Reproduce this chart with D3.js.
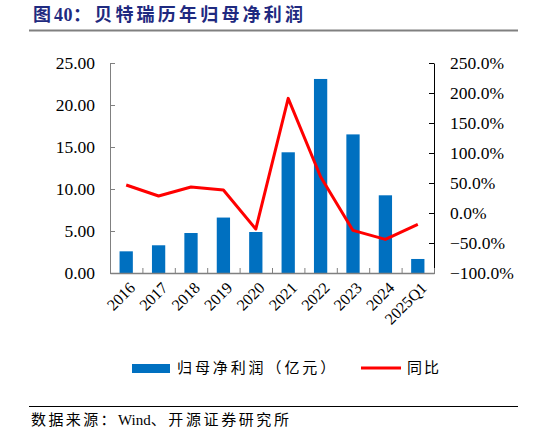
<!DOCTYPE html>
<html>
<head>
<meta charset="utf-8">
<script src="https://cdn.jsdelivr.net/npm/d3@7"></script>
<style>
  body { margin: 0; background: #fff; }
  svg { display: block; }
</style>
</head>
<body>
<div id="chart"></div>
<script>
// datos
const categories = ["2016", "2017", "2018", "2019", "2020", "2021", "2022", "2023", "2024", "2025Q1"];
const profit = [2.58, 3.30, 4.76, 6.60, 4.88, 14.37, 23.10, 16.50, 9.25, 1.67];
const yoy = [46.7, 28.3, 43.3, 38.3, -26.7, 191.0, 60.5, -29.0, -44.0, -19.0];
const leftTicks = [0, 5, 10, 15, 20, 25];
const rightTicks = [-100, -50, 0, 50, 100, 150, 200, 250];

const W = 546, H = 436;
const margin = { top: 63, left: 110, right: 112, bottom: 163 };
const width = W - margin.left - margin.right;
const height = H - margin.top - margin.bottom;

const serif = "'Liberation Serif', 'Times New Roman', serif";
const cjk = "'Liberation Serif', 'Noto Sans CJK SC', sans-serif";

const svg = d3.select("#chart").append("svg")
  .attr("width", W)
  .attr("height", H);

// titulo
const title = svg.append("text")
  .attr("x", 33)
  .attr("y", 21)
  .attr("fill", "#1f2a80")
  .style("font-family", cjk)
  .style("font-weight", "bold")
  .style("font-size", "18px");
title.append("tspan").style("letter-spacing", "3px").text("图");
title.append("tspan").style("letter-spacing", "0.5px").text("40");
title.append("tspan").style("letter-spacing", "3.2px").text("：贝特瑞历年归母净利润");

svg.append("line")
  .attr("x1", 29).attr("x2", 518)
  .attr("y1", 30.5).attr("y2", 30.5)
  .attr("stroke", "#808080")
  .attr("stroke-width", 2);

const g = svg.append("g")
  .attr("transform", `translate(${margin.left},${margin.top})`);

// escalas
const x = d3.scaleBand().domain(categories).range([0, width]).paddingInner(0.59).paddingOuter(0.295);
const xc = d3.scaleBand().domain(categories).range([0, width]);
const yL = d3.scaleLinear().domain([0, 25]).range([height, 0]);
const yR = d3.scaleLinear().domain([-100, 250]).range([height, 0]);
const xEdge = d3.scaleLinear().domain([0, categories.length]).range([0, width]);

// barras
g.selectAll(".bar")
  .data(profit)
  .enter().append("rect")
  .attr("class", "bar")
  .attr("x", (d, i) => x(categories[i]))
  .attr("width", x.bandwidth())
  .attr("y", d => yL(d))
  .attr("height", d => height - yL(d))
  .attr("fill", "#0070c0");

// eje izquierdo
const leftAxis = g.append("g")
  .call(d3.axisLeft(yL).tickValues(leftTicks).tickSizeInner(-5).tickSizeOuter(0).tickPadding(15)
    .tickFormat(d3.format(".2f")));
leftAxis.select(".domain").attr("stroke", "#808080");
leftAxis.selectAll(".tick line").attr("stroke", "#808080");
leftAxis.selectAll(".tick text")
  .attr("fill", "#000")
  .style("font-family", serif)
  .style("font-size", "17.5px");

// eje derecho
const rightAxis = g.append("g")
  .attr("transform", `translate(${width},0)`)
  .call(d3.axisRight(yR).tickValues(rightTicks).tickSizeInner(-5).tickSizeOuter(0).tickPadding(16)
    .tickFormat(d => d3.format(".1f")(d) + "%"));
rightAxis.select(".domain").attr("stroke", "#000");
rightAxis.selectAll(".tick line").attr("stroke", "#000");
rightAxis.selectAll(".tick text")
  .attr("fill", "#000")
  .style("font-family", serif)
  .style("font-size", "17.5px");

// eje inferior (marcas entre categorias)
const bottomAxis = g.append("g")
  .attr("transform", `translate(0,${height})`)
  .call(d3.axisBottom(xEdge).tickValues(d3.range(0, categories.length + 1)).tickSizeInner(-5).tickSizeOuter(0).tickFormat(""));
bottomAxis.select(".domain").attr("stroke", "#808080").attr("stroke-width", 1.5);
bottomAxis.selectAll(".tick line").attr("stroke", "#808080");

// etiquetas rotadas
g.selectAll(".xlab")
  .data(categories)
  .enter().append("text")
  .attr("class", "xlab")
  .attr("transform", d => `translate(${xc(d) + xc.bandwidth() / 2 + 6},${height + 12}) rotate(-45)`)
  .attr("text-anchor", "end")
  .attr("dy", "0.35em")
  .style("font-family", serif)
  .style("font-size", "16px")
  .text(d => d);

// linea de crecimiento
const line = d3.line()
  .x((d, i) => xc(categories[i]) + xc.bandwidth() / 2)
  .y(d => yR(d));

g.append("path")
  .datum(yoy)
  .attr("fill", "none")
  .attr("stroke", "#ff0000")
  .attr("stroke-width", 3)
  .attr("stroke-linejoin", "round")
  .attr("d", line);

// leyenda
const legY = 368;
svg.append("rect")
  .attr("x", 132).attr("y", legY - 4)
  .attr("width", 38).attr("height", 9)
  .attr("fill", "#0070c0");
svg.append("text")
  .attr("x", 177).attr("y", legY)
  .attr("dy", "0.36em")
  .style("font-family", cjk)
  .style("font-size", "15px")
  .style("letter-spacing", "2.9px")
  .text("归母净利润（亿元）");
svg.append("line")
  .attr("x1", 361).attr("x2", 401)
  .attr("y1", legY).attr("y2", legY)
  .attr("stroke", "#ff0000")
  .attr("stroke-width", 3);
svg.append("text")
  .attr("x", 407).attr("y", legY)
  .attr("dy", "0.36em")
  .style("font-family", cjk)
  .style("font-size", "15px")
  .style("letter-spacing", "2px")
  .text("同比");

// fuente
svg.append("line")
  .attr("x1", 29).attr("x2", 518)
  .attr("y1", 406.5).attr("y2", 406.5)
  .attr("stroke", "#000")
  .attr("stroke-width", 1);
const source = svg.append("text")
  .attr("x", 31).attr("y", 425)
  .style("font-family", cjk)
  .style("font-size", "15px");
source.append("tspan").style("letter-spacing", "2.4px").text("数据来源：");
source.append("tspan").style("letter-spacing", "0px").text("Wind");
source.append("tspan").style("letter-spacing", "2.6px").text("、开源证券研究所");
</script>
</body>
</html>
